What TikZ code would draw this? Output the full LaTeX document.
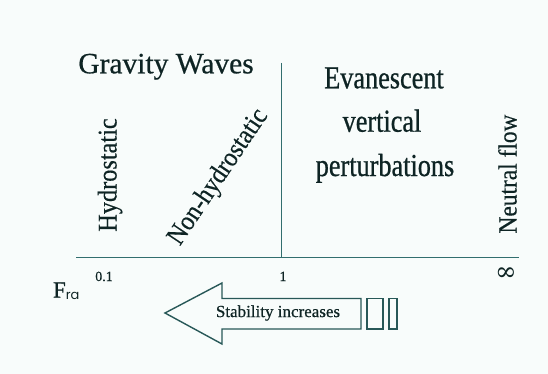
\documentclass[tikz,border=0pt]{standalone}
\usepackage{fontspec}
\setmainfont{Liberation Serif}[FakeBold=0.5]
\newfontfamily\plainfont{Liberation Serif}[FakeBold=0.6]
\newfontfamily\condfont{Liberation Serif}[FakeStretch=0.82,FakeBold=0.7]
\newfontfamily\narrowfont{Liberation Serif}[FakeStretch=0.9,FakeBold=0.4]
\newfontfamily\subfont{Poppins}
\newfontfamily\symfont{DejaVu Serif}
\definecolor{bg}{RGB}{248,252,251}
\definecolor{ink}{RGB}{14,36,36}
\definecolor{axiscol}{RGB}{50,110,110}
\tikzset{
  lbl/.style={text=ink, inner sep=0pt, outer sep=0pt},
  axisline/.style={draw=axiscol, line width=1pt},
  outline/.style={draw=axiscol!80!black, line width=1.4pt, line join=miter}
}
\begin{document}
\begin{tikzpicture}[x=1pt,y=-1pt]
\fill[bg] (0,0) rectangle (548,374);
\useasboundingbox (0,0) rectangle (548,374);

% axes
\coordinate (axL) at (76,257.5);
\coordinate (axR) at (519,257.5);
\coordinate (vTop) at (281,63);
\coordinate (vBot) at (281,257.5);
\draw[axisline] (axL) -- (axR);
\draw[axisline] (vTop) -- (vBot);

% titles
\node[lbl, anchor=base, font=\plainfont\fontsize{29.5}{29.5}\selectfont] (gw) at (166,73.3) {Gravity Waves};
\node[lbl, anchor=base, font=\condfont\fontsize{32}{32}\selectfont] (ev1) at (384,88.3) {Evanescent};
\node[lbl, anchor=base, font=\condfont\fontsize{32}{32}\selectfont] (ev2) at (382,131.7) {vertical};
\node[lbl, anchor=base, font=\condfont\fontsize{32}{32}\selectfont] (ev3) at (385,176) {perturbations};

% rotated labels
\node[lbl, anchor=base, rotate=90, font=\narrowfont\fontsize{27}{27}\selectfont] (hyd) at (116.5,175) {Hydrostatic};
\node[lbl, anchor=base, rotate=56, font=\narrowfont\fontsize{27}{27}\selectfont] (nhyd) at (224,181) {Non-hydrostatic};
\node[lbl, anchor=base, rotate=90, font=\narrowfont\fontsize{26}{26}\selectfont] (neu) at (516.5,174) {Neutral flow};

% axis labels
\node[lbl, anchor=base, font=\plainfont\fontsize{14}{14}\selectfont] (t01) at (104,281) {0.1};
\node[lbl, anchor=base, font=\plainfont\fontsize{14}{14}\selectfont] (t1) at (283,281) {1};
\node[lbl, font=\symfont\fontsize{26}{26}\selectfont] (tinf) at (506,274.5) {∞};
\node[lbl, anchor=base west] (fra) at (53,297.5) {\plainfont\fontsize{23}{23}\selectfont F\raisebox{-2pt}{\subfont\fontsize{13}{13}\selectfont ra}};

% stability arrow
\coordinate (tip) at (165,313);
\coordinate (ht) at (222,283);
\coordinate (st) at (222,298.5);
\coordinate (sr) at (361,298.5);
\coordinate (sbr) at (361,329);
\coordinate (sb) at (222,329);
\coordinate (hb) at (222,344);
\draw[outline, fill=bg] (tip) -- (ht) -- (st) -- (sr) -- (sbr) -- (sb) -- (hb) -- cycle;
\node[lbl, font=\plainfont\fontsize{17}{17}\selectfont] (stab) at (278,313) {Stability increases};
\coordinate (r1a) at (367,298.5);
\coordinate (r1b) at (383,329);
\coordinate (r2a) at (389,298.5);
\coordinate (r2b) at (397,329);
\draw[outline] (r1a) rectangle (r1b);
\draw[outline] (r2a) rectangle (r2b);
\end{tikzpicture}
\end{document}
